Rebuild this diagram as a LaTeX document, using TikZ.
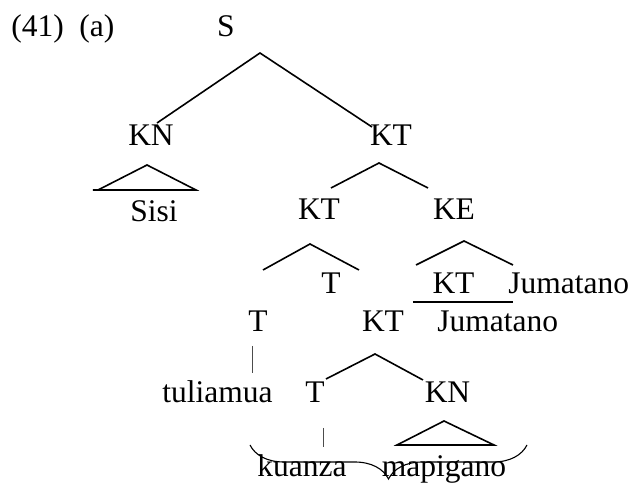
\documentclass[tikz,border=0pt]{standalone}
\usepackage{fontspec}
\setmainfont{Liberation Serif}
\usetikzlibrary{decorations.pathreplacing}
\tikzset{lbl/.style={anchor=base,inner sep=0pt,font=\fontsize{15.75}{19}\selectfont},
  br/.style={line width=0.8pt},
  tick/.style={line width=0.5pt,black!70}}
\begin{document}
\begin{tikzpicture}[x=0.5pt,y=-0.5pt]
\useasboundingbox (0,0) rectangle (634,485);
\node[lbl,anchor=base west](num)at(11,37){(41)};
\node[lbl,anchor=base west](sub)at(79,37){(a)};
\node[lbl](s)at(226,37){S};
\node[lbl](kn)at(151,146){KN};
\node[lbl](kt)at(391,146){KT};
\node[lbl](sisi)at(154,222){Sisi};
\node[lbl](kt2)at(319,220){KT};
\node[lbl](ke)at(454,220){KE};
\node[lbl](t)at(331,294){T};
\node[lbl](kt3)at(453.5,294){KT};
\node[lbl,anchor=base west](jum)at(508,294){Jumatano};
\node[lbl](t2)at(258,332){T};
\node[lbl](kt4)at(383,332){KT};
\node[lbl,anchor=base west](jum2)at(437,332){Jumatano};
\node[lbl](tul)at(217.5,403){tuliamua};
\node[lbl](t3)at(315,403){T};
\node[lbl](kn2)at(447.5,403){KN};
\node[lbl](kua)at(302,477){kuanza};
\node[lbl](map)at(444,477){mapigano};
\coordinate(s-a)at(260,53);\coordinate(s-l)at(157,123);\coordinate(s-r)at(372,127);
\coordinate(kn-a)at(147,165);\coordinate(kn-l)at(98,190);\coordinate(kn-r)at(196,190);\coordinate(kn-b)at(93,190);
\coordinate(kt-a)at(379,163);\coordinate(kt-l)at(331,188);\coordinate(kt-r)at(428,188);
\coordinate(kt2-a)at(310,244);\coordinate(kt2-l)at(263,270);\coordinate(kt2-r)at(359,270);
\coordinate(ke-a)at(464,241);\coordinate(ke-l)at(416,265);\coordinate(ke-r)at(513,265);
\coordinate(bar-l)at(413,302);\coordinate(bar-r)at(513,302);
\coordinate(t2-a)at(252.7,346);\coordinate(t2-b)at(252.7,373);
\coordinate(kt4-a)at(375,354);\coordinate(kt4-l)at(326,379);\coordinate(kt4-r)at(423,380);
\coordinate(t3-a)at(324,428);\coordinate(t3-b)at(324,447);
\coordinate(kn2-a)at(444,421);\coordinate(kn2-l)at(397,445);\coordinate(kn2-r)at(494,445);
\coordinate(brc-l)at(250,445);\coordinate(brc-r)at(527,445);
\draw[br](s-l)--(s-a)--(s-r);
\draw[br](kn-l)--(kn-a)--(kn-r)--(kn-b);
\draw[br](kt-l)--(kt-a)--(kt-r);
\draw[br](kt2-l)--(kt2-a)--(kt2-r);
\draw[br](ke-l)--(ke-a)--(ke-r);
\draw[br](bar-l)--(bar-r);
\draw[tick](t2-a)--(t2-b);
\draw[br](kt4-l)--(kt4-a)--(kt4-r);
\draw[tick](t3-a)--(t3-b);
\draw[br](kn2-l)--(kn2-a)--(kn2-r)--cycle;
\draw[line width=0.55pt,decorate,decoration={brace,mirror,amplitude=17pt}](brc-l)--(brc-r);
\end{tikzpicture}
\end{document}
